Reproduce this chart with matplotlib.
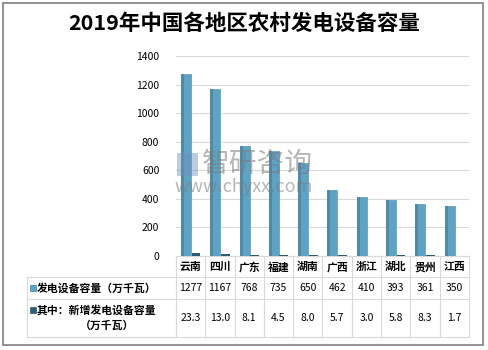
import matplotlib
matplotlib.use("Agg")
import matplotlib.pyplot as plt
from matplotlib.patches import Rectangle
from matplotlib.lines import Line2D

plt.rcParams['font.family'] = ['Noto Sans CJK SC', 'DejaVu Sans']

title = "2019年中国各地区农村发电设备容量"
regions = ["云南", "四川", "广东", "福建", "湖南", "广西", "浙江", "湖北", "贵州", "江西"]
capacity = [1277, 1167, 768, 735, 650, 462, 410, 393, 361, 350]
new_capacity = [23.3, 13.0, 8.1, 4.5, 8.0, 5.7, 3.0, 5.8, 8.3, 1.7]
series1_name = "发电设备容量（万千瓦）"
series2_name = ["其中：新增发电设备容量", "（万千瓦）"]
yticks = [0, 200, 400, 600, 800, 1000, 1200, 1400]

W, H = 489, 350
fig = plt.figure(figsize=(W / 100, H / 100), dpi=100)

def fx(px):
    return px / W

def fy(py):
    return 1 - py / H

# outer border
fig.add_artist(Rectangle((fx(3), fy(345)), fx(480), 342 / H, transform=fig.transFigure,
                         fill=False, edgecolor="#7f7f7f", linewidth=1.2))

fig.text(0.5, fy(23), title, ha="center", va="center", fontsize=15.5, fontweight="bold",
         color="#000000")

left, right, top, bottom = 176, 469, 56, 256
ax = fig.add_axes([fx(left), fy(bottom), fx(right - left), (bottom - top) / H])

n = len(regions)
x = list(range(n))
c1 = "#5fa3c4"
c2 = "#2f5b73"
ax.bar([i - 0.16 for i in x], capacity, width=0.34, color=c1, edgecolor="#4a8aa8", linewidth=0.4, zorder=3)
ax.bar([i + 0.18 for i in x], new_capacity, width=0.3, color=c2, zorder=3)
# darker left shading of main bars
ax.bar([i - 0.28 for i in x], capacity, width=0.1, color="#4f8aa6", zorder=4, linewidth=0)

ax.set_xlim(-0.5, n - 0.5)
ax.set_ylim(0, 1400)
ax.set_yticks(yticks)
ax.set_yticklabels([str(t) for t in yticks], fontsize=7.5, color="#000000")
ax.set_xticks([])
ax.tick_params(axis="y", length=0, pad=12)
ax.grid(axis="y", color="#d9d9d9", linewidth=0.8, zorder=0)
for s in ["top", "right", "left"]:
    ax.spines[s].set_visible(False)
ax.spines["bottom"].set_color("#d9d9d9")

# data table
grid_c = "#d9d9d9"
tleft = 27
colw = (right - left) / n

def hline(y, x0, x1):
    fig.add_artist(Line2D([fx(x0), fx(x1)], [fy(y), fy(y)], transform=fig.transFigure,
                          color=grid_c, linewidth=0.8))

def vline(xp, y0, y1):
    fig.add_artist(Line2D([fx(xp), fx(xp)], [fy(y0), fy(y1)], transform=fig.transFigure,
                          color=grid_c, linewidth=0.8))

hline(277, tleft, right)
hline(299, tleft, right)
hline(337, tleft, right)
vline(tleft, 277, 337)
for i in range(n + 1):
    vline(left + i * colw, 256, 337)

for i, r in enumerate(regions):
    xc = left + (i + 0.5) * colw
    fig.text(fx(xc), fy(267), r, ha="center", va="center", fontsize=7.8, fontweight="bold")
    fig.text(fx(xc), fy(288), str(capacity[i]), ha="center", va="center", fontsize=7.5)
    fig.text(fx(xc), fy(318), f"{new_capacity[i]:.1f}", ha="center", va="center", fontsize=7.5)

# legend keys
fig.add_artist(Rectangle((fx(30), fy(291)), fx(6), 6 / H, transform=fig.transFigure,
                         facecolor=c1, edgecolor="#3f7f9f", linewidth=0.5))
fig.text(fx(37), fy(288), series1_name, ha="left", va="center", fontsize=7.8, fontweight="bold")
fig.add_artist(Rectangle((fx(30), fy(313)), fx(6), 6 / H, transform=fig.transFigure,
                         facecolor=c2, edgecolor=c2, linewidth=0.5))
fig.text(fx(37), fy(310), series2_name[0], ha="left", va="center", fontsize=7.8, fontweight="bold")
fig.text(fx(107), fy(326), series2_name[1], ha="center", va="center", fontsize=7.8, fontweight="bold")

# watermark
fig.text(fx(202), fy(164), "智研咨询", ha="left", va="center", fontsize=20,
         color="#7a7a7a", alpha=0.55)
fig.text(fx(175), fy(187), "www.chyxx.com", ha="left", va="center", fontsize=13,
         color="#7a7a7a", alpha=0.55)
fig.add_artist(Rectangle((fx(177), fy(176)), fx(21), 23 / H, transform=fig.transFigure,
                         facecolor="#6f8fb8", edgecolor="none", alpha=0.45))

fig.savefig("out.png", dpi=100)
